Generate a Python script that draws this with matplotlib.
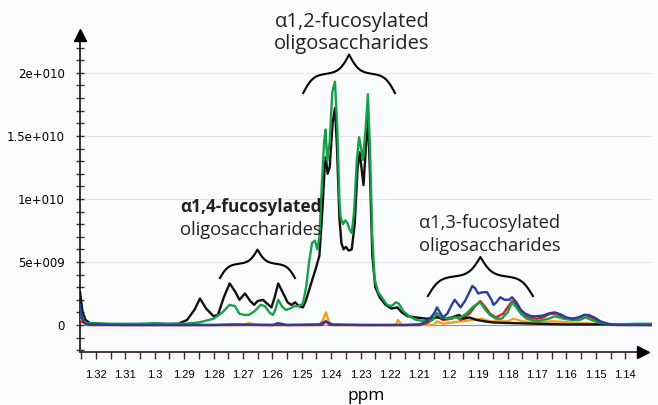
import numpy as np
import matplotlib.pyplot as plt
from matplotlib.ticker import FixedLocator

# ---- data (ppm, intensity in units of 1e9) ----
black_ppm = [1.3254, 1.3245, 1.3235, 1.322, 1.315, 1.30, 1.292, 1.289, 1.2865, 1.2846,
             1.2825, 1.2800, 1.2785, 1.2765, 1.2745, 1.2725, 1.2712, 1.2693, 1.2675,
             1.2662, 1.2650, 1.2632, 1.2618, 1.2603, 1.2592, 1.2580, 1.2565, 1.2548,
             1.2535, 1.2522, 1.2510, 1.2496, 1.2485, 1.2468, 1.2452, 1.2440, 1.2430,
             1.2422, 1.2418, 1.2412, 1.2405, 1.2395, 1.2387, 1.2380, 1.2372, 1.2365,
             1.2358, 1.2350, 1.2340, 1.2330, 1.2320, 1.2310, 1.2303, 1.2297, 1.2290,
             1.2282, 1.2275, 1.2268, 1.2260, 1.2250, 1.2235, 1.2215, 1.2195, 1.2175,
             1.2160, 1.2140, 1.2110, 1.2075, 1.2040, 1.2015, 1.1990, 1.1965, 1.1950,
             1.1930, 1.1905, 1.1880, 1.1850, 1.1780, 1.1700, 1.1600, 1.1400, 1.1312]
black_val = [2.6, 1.0, 0.4, 0.15, 0.05, 0.05, 0.1, 0.4, 1.2, 2.1,
             1.3, 0.7, 0.8, 2.2, 3.3, 2.6, 2.0, 2.5, 1.9,
             1.6, 1.9, 2.0, 1.7, 1.4, 2.2, 3.3, 2.6, 1.8,
             1.6, 1.8, 1.5, 1.4, 2.0, 3.3, 4.5, 5.5, 9.0,
             12.5, 13.3, 12.0, 12.5, 16.0, 17.2, 14.0, 8.5, 6.5,
             6.0, 6.2, 5.9, 6.0, 8.0, 12.5, 13.7, 12.5, 11.1,
             14.0, 16.7, 12.0, 5.5, 3.0, 2.2, 1.6, 1.3, 1.4,
             1.0, 0.7, 0.6, 0.5, 0.6, 0.5, 0.6, 0.8, 0.5,
             0.6, 0.4, 0.3, 0.2, 0.15, 0.1, 0.05, 0.05, 0.05]

green_ppm = [1.3254, 1.3245, 1.323, 1.315, 1.305, 1.30, 1.295, 1.29, 1.285, 1.280,
             1.277, 1.2745, 1.2727, 1.2712, 1.2695, 1.2680, 1.2660, 1.2640, 1.2625,
             1.2610, 1.2598, 1.2590, 1.2580, 1.2568, 1.2555, 1.2540, 1.2525, 1.2510,
             1.2496, 1.2485, 1.2475, 1.2465, 1.2455, 1.2447, 1.2440, 1.2432, 1.2424,
             1.2419, 1.2413, 1.2405, 1.2396, 1.2387, 1.2379, 1.2372, 1.2368, 1.2360,
             1.2352, 1.2345, 1.2338, 1.2330, 1.2322, 1.2313, 1.2305, 1.2298, 1.2292,
             1.2283, 1.2275, 1.2268, 1.2260, 1.2252, 1.2240, 1.2225, 1.2210, 1.2195,
             1.2180, 1.2170, 1.2155, 1.2135, 1.2110, 1.2080, 1.2055, 1.2040, 1.2025,
             1.2000, 1.1980, 1.1960, 1.1940, 1.1915, 1.1893, 1.1875, 1.1860, 1.1840,
             1.1820, 1.1800, 1.1785, 1.1770, 1.1755, 1.1735, 1.1700, 1.1660, 1.1640,
             1.1610, 1.1580, 1.1555, 1.1535, 1.1515, 1.1490, 1.1450, 1.1350, 1.1312]
green_val = [1.0, 0.4, 0.15, 0.1, 0.1, 0.15, 0.1, 0.1, 0.2, 0.5,
             1.0, 1.6, 1.5, 0.9, 0.8, 0.8, 1.1, 1.6, 1.5,
             1.0, 0.8, 1.2, 2.0, 1.5, 1.2, 1.3, 1.5, 1.5,
             1.7, 3.0, 5.0, 6.5, 6.7, 6.0, 7.0, 11.0, 14.5,
             15.5, 13.0, 14.5, 18.5, 19.3, 15.5, 10.0, 8.6, 8.0,
             8.3, 8.1, 7.6, 7.3, 9.0, 13.0, 14.9, 14.0, 13.1,
             15.5, 18.3, 14.0, 7.0, 3.6, 2.6, 2.1, 1.6, 1.5,
             1.8, 1.7, 1.1, 0.7, 0.4, 0.3, 0.4, 0.95, 0.6,
             0.5, 0.6, 0.6, 0.9, 1.5, 1.8, 1.2, 0.8, 0.5,
             0.5, 1.0, 1.8, 1.4, 0.9, 0.5, 0.3, 0.5, 0.7,
             0.5, 0.4, 0.4, 0.6, 0.4, 0.2, 0.05, 0.1, 0.1]

blue_ppm = [1.3254, 1.3248, 1.3240, 1.3230, 1.31, 1.28, 1.2725, 1.26, 1.258, 1.255,
            1.2440, 1.2418, 1.2400, 1.2300, 1.2150, 1.2100, 1.2080, 1.2065, 1.2050,
            1.2040, 1.2030, 1.2020, 1.2005, 1.1990, 1.1980, 1.1970, 1.1960, 1.1945,
            1.1930, 1.1920, 1.1910, 1.1900, 1.1885, 1.1870, 1.1855, 1.1848, 1.1838,
            1.1825, 1.1810, 1.1795, 1.1785, 1.1770, 1.1755, 1.1740, 1.1720, 1.1700,
            1.1680, 1.1655, 1.1640, 1.1620, 1.1600, 1.1580, 1.1560, 1.1540, 1.1525,
            1.1505, 1.1485, 1.1460, 1.1430, 1.1312]
blue_val = [1.6, 0.6, 0.2, 0.05, 0.0, 0.0, 0.05, 0.0, 0.15, 0.0,
            0.05, 0.3, 0.05, 0.0, 0.0, 0.05, 0.2, 0.5, 0.9,
            1.4, 1.0, 0.6, 0.9, 1.6, 2.0, 1.7, 1.4, 1.9,
            2.6, 3.1, 2.9, 2.5, 2.6, 2.6, 2.0, 1.6, 1.8,
            2.2, 2.0, 2.0, 2.2, 1.8, 1.2, 0.9, 0.7, 0.7,
            0.75, 0.95, 1.0, 0.85, 0.6, 0.5, 0.6, 0.8, 0.8,
            0.6, 0.3, 0.1, 0.0, 0.0]

red_ppm = [1.3254, 1.322, 1.2430, 1.2418, 1.2405, 1.2100, 1.2070, 1.2040, 1.2020,
           1.1990, 1.1975, 1.1960, 1.1930, 1.1910, 1.1893, 1.1875, 1.1860, 1.1840,
           1.1815, 1.1800, 1.1785, 1.1770, 1.1750, 1.1730, 1.1700, 1.1680, 1.1655,
           1.1635, 1.1610, 1.1580, 1.1555, 1.1535, 1.1515, 1.1490, 1.1460, 1.1312]
red_val = [0.3, 0.0, 0.0, 0.3, 0.0, 0.0, 0.2, 0.7, 0.4,
           0.5, 0.7, 0.4, 0.9, 1.5, 1.9, 1.4, 0.9, 0.6,
           0.9, 1.4, 1.9, 1.6, 1.0, 0.6, 0.5, 0.6, 0.9,
           0.9, 0.6, 0.5, 0.6, 0.8, 0.6, 0.3, 0.05, 0.0]

orange_ppm = [1.3254, 1.323, 1.27, 1.268, 1.265, 1.2440, 1.2430, 1.2418, 1.2408,
              1.2395, 1.2180, 1.2173, 1.2160, 1.2050, 1.2040, 1.2020, 1.1990, 1.1920,
              1.1890, 1.1860, 1.1800, 1.1780, 1.1750, 1.1700, 1.1650, 1.1580, 1.1500,
              1.1450, 1.1312]
orange_val = [0.4, 0.0, 0.0, 0.15, 0.0, 0.0, 0.3, 1.0, 0.3,
              0.0, 0.0, 0.4, 0.0, 0.0, 0.3, 0.1, 0.2, 0.4,
              0.5, 0.3, 0.3, 0.5, 0.3, 0.2, 0.3, 0.2, 0.1,
              0.0, 0.0]

# annotation labels (two lines each) and braces: (ppm left, ppm right, base, height) in 1e9
label_top = ['α1,2-fucosylated', 'α1,4-fucosylated', 'α1,3-fucosylated']
label_bottom = ['oligosaccharides', 'oligosaccharides', 'oligosaccharides']
label_ppm = [1.2329, 1.2674, 1.1862]
label_top_val = [24.05, 9.35, 8.1]
label_bot_val = [22.25, 7.55, 6.3]
label_top_size = [14.5, 12.4, 13.2]
label_bot_size = [14.5, 13.2, 13.2]
braces = [(1.2495, 1.2183, 18.4, 3.05),
          (1.2778, 1.2523, 3.73, 2.25),
          (1.2071, 1.1714, 2.3, 3.1)]

SCALE = 1e9


def draw_brace(ax, x0, x1, base, height, beta=18.0):
    t = np.linspace(0, 0.5, 150)
    half = 1/(1+np.exp(-beta*(t-t[0]))) + 1/(1+np.exp(-beta*(t-t[-1])))
    half = half - 0.5
    shape = np.concatenate((half, half[-2::-1]))
    tt = np.linspace(0, 1, len(shape))
    ax.plot(x0 + tt*(x1-x0), (base + shape*height)*SCALE,
            color='black', lw=1.5, clip_on=False, zorder=6)


fig = plt.figure(figsize=(6.58, 4.05), dpi=100)
fig.patch.set_facecolor('#fafbfc')
ax = fig.add_axes([80/658, 53/405, (652-80)/658, (352-30)/405])
ax.set_facecolor('#fafbfc')

ax.set_xlim(1.3254, 1.1309)
ax.set_ylim(-2.14e9, 23.4e9)

for yy in [5e9, 10e9, 15e9, 20e9]:
    ax.axhline(yy, color='#e6e6e6', lw=0.8, zorder=0)
ax.axhline(0, color='#a09090', lw=0.8, zorder=1)

series = [(orange_ppm, orange_val, '#f3a21f'),
          (red_ppm, red_val, '#c42b1c'),
          (black_ppm, black_val, '#111111'),
          (green_ppm, green_val, '#16a04a'),
          (blue_ppm, blue_val, '#2a3c9c')]
for xs, ys, c in series:
    ax.plot(xs, np.array(ys)*SCALE, color=c, lw=1.7, zorder=3,
            solid_joinstyle='round')

for (x0, x1, b, h) in braces:
    draw_brace(ax, x0, x1, b, h)

for i in range(3):
    ax.text(label_ppm[i], label_top_val[i]*SCALE, label_top[i], ha='center',
            va='center', fontsize=label_top_size[i], family='Open Sans',
            color='#222222', fontweight='bold' if i == 1 else 'normal', zorder=7)
    ax.text(label_ppm[i], label_bot_val[i]*SCALE, label_bottom[i], ha='center',
            va='center', fontsize=label_bot_size[i], family='Open Sans',
            color='#222222', zorder=7)

# axes styling
for s in ['top', 'right']:
    ax.spines[s].set_visible(False)
ax.spines['left'].set_color('#222222')
ax.spines['bottom'].set_color('#3a2a2a')
ax.spines['left'].set_linewidth(1.3)
ax.spines['bottom'].set_linewidth(1.3)
ax.spines['bottom'].set_bounds(1.3254, 1.1335)
ax.spines['left'].set_bounds(-2.14e9, 22.9e9)
ax.plot(0, 0.983, marker='^', color='black', markersize=9, transform=ax.transAxes,
        clip_on=False, zorder=8)
ax.plot(0.985, 0, marker='>', color='black', markersize=9, transform=ax.transAxes,
        clip_on=False, zorder=8)

ax.yaxis.set_major_locator(FixedLocator([0, 5e9, 10e9, 15e9, 20e9]))
ax.set_yticklabels(['0', '5e+009', '1e+010', '1.5e+010', '2e+010'])
ax.yaxis.set_minor_locator(FixedLocator(np.arange(-2e9, 22.5e9, 1e9)))
ax.tick_params(axis='y', which='both', direction='inout', length=6,
               width=1, color='#333333', labelsize=8.5, pad=8)

xt = np.round(np.arange(1.32, 1.135, -0.01), 2)
ax.set_xticks(xt)
ax.set_xticklabels([f'{v:g}' for v in xt], family='Liberation Sans')
ax.xaxis.set_minor_locator(FixedLocator(np.arange(1.325, 1.136, -0.005)))
ax.tick_params(axis='x', which='both', direction='out', length=5,
               width=1, color='#333333', labelsize=8, pad=8)
ax.set_xlabel('ppm', fontsize=12.5, family='Open Sans', labelpad=6)

fig.savefig('out.png', dpi=100, facecolor=fig.get_facecolor())
